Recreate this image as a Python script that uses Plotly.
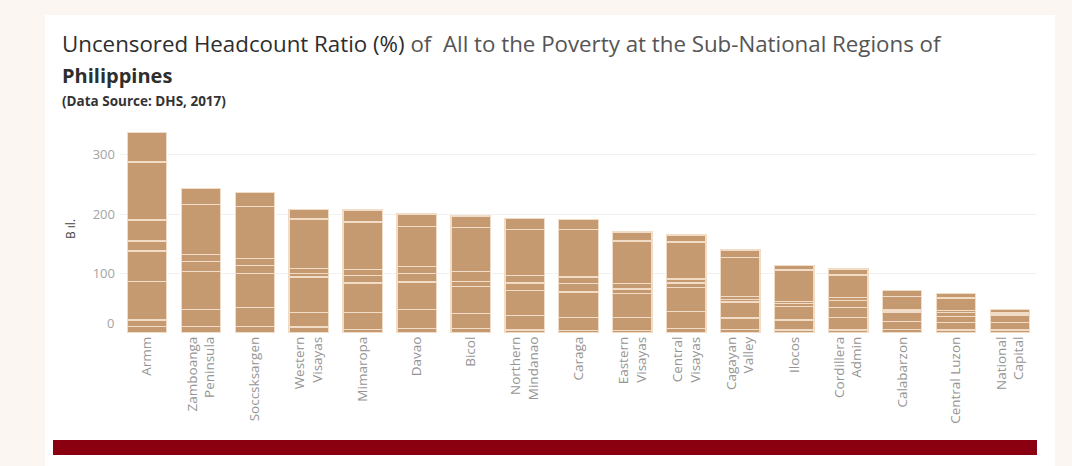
import plotly.graph_objects as go

categories = ["Armm", "Zamboanga Peninsula", "Soccsksargen", "Western Visayas", "Mimaropa",
              "Davao", "Bicol", "Northern Mindanao", "Caraga", "Eastern Visayas",
              "Central Visayas", "Cagayan Valley", "Ilocos", "Cordillera Admin",
              "Calabarzon", "Central Luzon", "National Capital"]
tick_labels = ["Armm", "Zamboanga<br>Peninsula", "Soccsksargen", "Western<br>Visayas", "Mimaropa",
               "Davao", "Bicol", "Northern<br>Mindanao", "Caraga", "Eastern<br>Visayas",
               "Central<br>Visayas", "Cagayan<br>Valley", "Ilocos", "Cordillera<br>Admin",
               "Calabarzon", "Central Luzon", "National<br>Capital"]

# stacked indicator segments (bottom to top)
seg1 = [11, 11, 11, 10, 6, 7, 7, 5, 4, 4, 7, 6, 5, 5, 6, 5, 5]
seg2 = [11, 0, 0, 0, 0, 0, 0, 0, 0, 0, 0, 0, 0, 0, 0, 0, 0]
seg3 = [65, 29, 32, 24, 28, 32, 26, 24, 22, 22, 29, 19, 17, 21, 13, 13, 13]
seg4 = [51, 63, 57, 60, 50, 47, 45, 43, 43, 41, 40, 27, 23, 17, 15, 10, 12]
seg5 = [17, 17, 14, 6, 13, 14, 9, 12, 14, 7, 8, 4, 5, 12, 3, 6, 1.5]
seg6 = [35, 12, 11, 9, 10, 12, 16, 13, 11, 9, 7, 6, 3, 5, 3, 4, 1.5]
seg7 = [98, 84, 88, 83, 80, 67, 75, 77, 80, 72, 62, 65, 53, 37.5, 22, 21, 0.5]
seg8 = [49, 27, 24, 16, 20, 21, 19, 19, 17, 15, 12, 12.5, 8, 10, 9, 7.5, 5.5]
segments = [seg1, seg2, seg3, seg4, seg5, seg6, seg7, seg8]
segment_names = ["Indicator 1", "Indicator 2", "Indicator 3", "Indicator 4",
                 "Indicator 5", "Indicator 6", "Indicator 7", "Indicator 8"]

y_ticks = [0, 100, 200, 300]
y_tick_text = ["", "100", "200", "300"]

bar_color = "#c69a71"
sep_color = "#f1dcc7"

fig = go.Figure()
for name, vals in zip(segment_names, segments):
    fig.add_trace(go.Bar(
        x=categories, y=vals, name=name,
        marker=dict(color=bar_color, line=dict(color=sep_color, width=1.3)),
        hovertemplate="%{x}<br>" + name + ": %{y}<extra></extra>",
    ))

W, H = 1072, 466
L, R, T, B = 120, 35, 125, 133
pw = W - L - R
ph = H - T - B

def px(x):
    return (x - L) / pw

def py(y):
    return (H - B - y) / ph

fig.update_layout(
    width=W, height=H,
    barmode="stack",
    bargap=0.27,
    showlegend=False,
    paper_bgcolor="#fcf6f2",
    plot_bgcolor="white",
    margin=dict(l=L, r=R, t=T, b=B, autoexpand=False),
    font=dict(family="Open Sans", color="#333"),
    xaxis=dict(
        tickmode="array", tickvals=categories, ticktext=tick_labels,
        tickangle=-90, tickfont=dict(size=13.5, color="#959595", family="Open Sans"),
        showgrid=False, showline=False, ticks="", automargin=False,
    ),
    yaxis=dict(
        range=[0, 350], tickvals=y_ticks, ticktext=y_tick_text,
        tickfont=dict(size=13, color="#a3a3a3", family="Open Sans"),
        showgrid=True, gridcolor="#f1f1f1", gridwidth=1, zeroline=False,
        ticklabelstandoff=4, automargin=False,
        title=dict(text="B ıl.", font=dict(size=12, color="#444"), standoff=14),
    ),
    shapes=[
        dict(type="rect", xref="paper", yref="paper", layer="below",
             x0=px(45), x1=px(1055), y0=py(466), y1=py(15),
             fillcolor="white", line=dict(width=0)),
        dict(type="rect", xref="paper", yref="paper",
             x0=px(53), x1=px(1037), y0=py(455), y1=py(440),
             fillcolor="#8b0011", line=dict(width=0)),
    ],
    annotations=[
        dict(xref="paper", yref="paper", x=px(116), y=py(323), xanchor="right", yanchor="middle",
             showarrow=False, text="0", font=dict(size=13, color="#a3a3a3", family="Open Sans")),
        dict(xref="paper", yref="paper", x=px(60), y=py(43), xanchor="left", yanchor="middle",
             showarrow=False,
             text="<span style='color:#2e2e2e'>Uncensored Headcount Ratio (%)</span>"
                  "<span style='color:#555'> of  All to the Poverty at the Sub-National Regions of</span>",
             font=dict(size=22.3, family="Open Sans")),
        dict(xref="paper", yref="paper", x=px(60), y=py(75), xanchor="left", yanchor="middle",
             showarrow=False, text="<b>Philippines</b>",
             font=dict(size=20, family="Open Sans", color="#2e2e2e")),
        dict(xref="paper", yref="paper", x=px(60), y=py(101), xanchor="left", yanchor="middle",
             showarrow=False, text="<b>(Data Source: DHS, 2017)</b>",
             font=dict(size=13.5, family="Open Sans", color="#333")),
    ],
)

fig.write_html("out.html", config={"displayModeBar": False},
               post_script="document.body.style.margin='0px';")
